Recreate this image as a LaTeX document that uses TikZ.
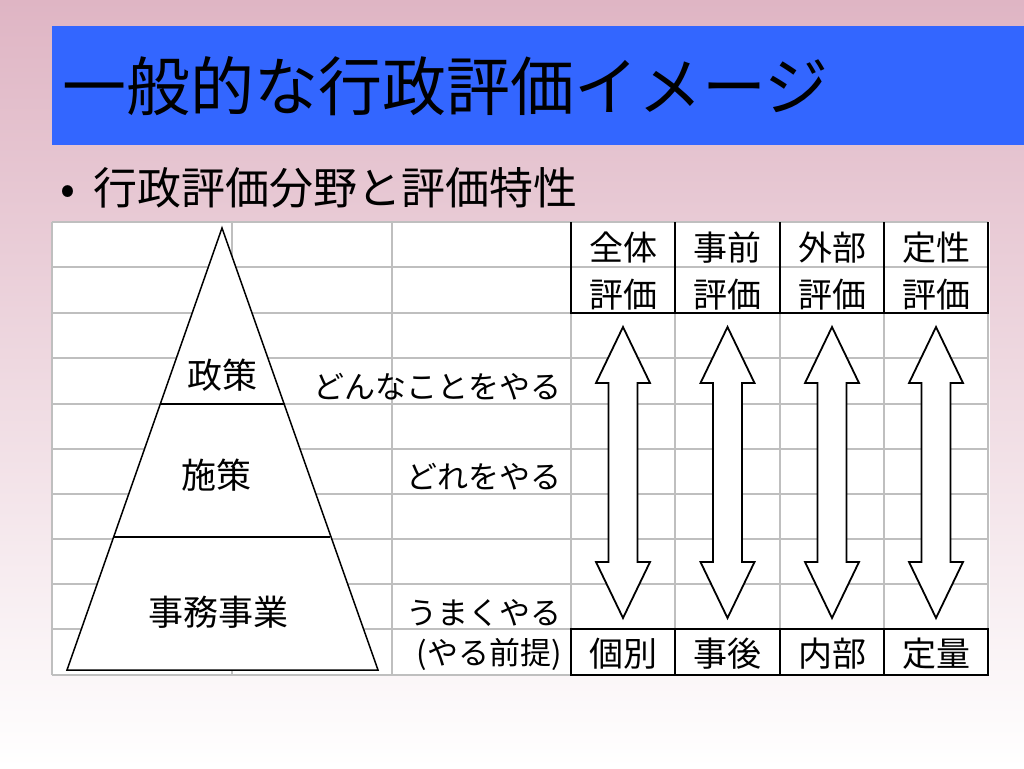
\documentclass[tikz,border=0pt]{standalone}
\usepackage{fontspec}
\setmainfont{Noto Sans CJK JP}
\begin{document}
\begin{tikzpicture}[x=1pt,y=-1pt,
  grid/.style={draw=black!25, line width=1.3pt},
  blk/.style={draw=black, line width=1.6pt},
  tri/.style={draw=black, line width=1.5pt, fill=white},
  arr/.style={draw=black, line width=1.8pt, fill=white, line join=miter},
  lbl/.style={inner sep=0pt, font=\fontsize{31}{31}\selectfont},
  cell/.style={inner sep=0pt, font=\fontsize{34}{34}\selectfont},
  layer/.style={inner sep=0pt, font=\fontsize{35}{35}\selectfont}]
\definecolor{bgpink}{HTML}{DFB5C4}
\definecolor{barblue}{HTML}{3366FF}
\useasboundingbox (0,0) rectangle (1024,768);
\shade[top color=bgpink, bottom color=white] (0,0) rectangle (1024,768);
% title bar
\fill[barblue] (52,26) rectangle (1024,145);
\node[anchor=west, inner sep=0pt, font=\fontsize{64}{64}\selectfont] (title) at (62,86) {一般的な行政評価イメージ};
% bullet
\node[anchor=west, inner sep=0pt, font=\fontsize{44}{44}\selectfont] (bullet) at (60,188) {•\hspace{18pt}行政評価分野と評価特性};
% table background
\fill[white] (52,222) rectangle (990,675);
% grid
\foreach \x in {52,232,392,571,675,780,884,988} \draw[grid] (\x,222) -- (\x,675);
\foreach \y in {222,267,313,358,404,449,494,539,584,629,675} \draw[grid] (52,\y) -- (988,\y);
% triangle
\coordinate (apex) at (222,228);
\coordinate (bl) at (67,670);
\coordinate (br) at (378,670);
\draw[tri] (apex) -- (br) -- (bl) -- cycle;
\coordinate (l1) at (160,404); \coordinate (r1) at (285,404);
\coordinate (l2) at (114,537); \coordinate (r2) at (330,537);
\draw[tri] (l1) -- (r1);
\draw[tri] (l2) -- (r2);
\node[layer] (seisaku) at (222,375) {政策};
\node[layer] (shisaku) at (216,475) {施策};
\node[layer] (jimu) at (218,612) {事務事業};
% left labels
\node[lbl, anchor=east] (t1) at (562,387) {どんなことをやる};
\node[lbl, anchor=east] (t2) at (562,477) {どれをやる};
\node[lbl, anchor=east] (t3) at (562,613) {うまくやる};
\node[lbl, anchor=east] (t4) at (562,654) {(やる前提)};
% header and footer borders
\foreach \x in {571,675,780,884,988} {
  \draw[blk] (\x,222) -- (\x,313);
  \draw[blk] (\x,629) -- (\x,675);
}
\draw[blk] (570.2,313) -- (988.8,313);
\draw[blk] (570.2,629) -- (988.8,629);
\draw[blk] (570.2,675) -- (988.8,675);
% header texts
\node[cell] (h1a) at (623,248) {全体}; \node[cell] (h1b) at (623,295) {評価};
\node[cell] (h2a) at (727,248) {事前}; \node[cell] (h2b) at (727,295) {評価};
\node[cell] (h3a) at (832,248) {外部}; \node[cell] (h3b) at (832,295) {評価};
\node[cell] (h4a) at (936,248) {定性}; \node[cell] (h4b) at (936,295) {評価};
% footer texts
\node[cell] (f1) at (623,654) {個別};
\node[cell] (f2) at (727,654) {事後};
\node[cell] (f3) at (832,654) {内部};
\node[cell] (f4) at (936,654) {定量};
% double arrows
\foreach \c in {623,727.5,832,936} {
  \draw[arr] (\c,327) -- (\c+27,383) -- (\c+14.5,383) -- (\c+14.5,562) -- (\c+27,562)
    -- (\c,618) -- (\c-27,562) -- (\c-14.5,562) -- (\c-14.5,383) -- (\c-27,383) -- cycle;
}
\end{tikzpicture}
\end{document}
